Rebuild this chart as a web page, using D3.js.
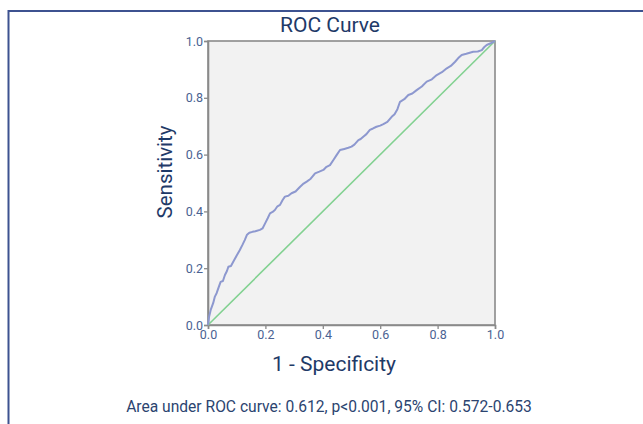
<!DOCTYPE html>
<html>
<head>
<meta charset="utf-8">
<script src="https://cdn.jsdelivr.net/npm/d3@7"></script>
<style>
  html, body { margin: 0; padding: 0; background: #ffffff; }
  svg { display: block; }
  text { font-family: Roboto, "Noto Sans", sans-serif; }
</style>
</head>
<body>
<svg id="chart" width="643" height="424"></svg>
<script>
// ROC curve points: 1 - specificity (fpr) and sensitivity (tpr)
const fpr = [0, 0.004, 0.010, 0.018, 0.024, 0.030, 0.038, 0.044, 0.052, 0.059, 0.066, 0.071, 0.080, 0.088, 0.100, 0.111, 0.120, 0.128, 0.136, 0.144, 0.155, 0.165, 0.181, 0.190, 0.199, 0.208, 0.216, 0.225, 0.233, 0.242, 0.251, 0.260, 0.268, 0.280, 0.291, 0.305, 0.321, 0.333, 0.344, 0.358, 0.373, 0.388, 0.402, 0.413, 0.425, 0.437, 0.448, 0.460, 0.475, 0.489, 0.500, 0.510, 0.524, 0.532, 0.541, 0.552, 0.564, 0.575, 0.587, 0.600, 0.611, 0.625, 0.640, 0.650, 0.660, 0.669, 0.684, 0.698, 0.712, 0.727, 0.745, 0.762, 0.780, 0.797, 0.815, 0.832, 0.846, 0.861, 0.872, 0.884, 0.900, 0.924, 0.940, 0.954, 0.962, 0.971, 0.985, 1.0];
const tpr = [0, 0.030, 0.055, 0.077, 0.100, 0.112, 0.135, 0.152, 0.155, 0.176, 0.190, 0.205, 0.208, 0.223, 0.245, 0.264, 0.282, 0.299, 0.318, 0.325, 0.328, 0.330, 0.335, 0.340, 0.358, 0.376, 0.393, 0.398, 0.405, 0.418, 0.423, 0.440, 0.452, 0.455, 0.464, 0.470, 0.487, 0.498, 0.505, 0.515, 0.534, 0.540, 0.546, 0.557, 0.563, 0.581, 0.598, 0.616, 0.620, 0.624, 0.628, 0.635, 0.651, 0.655, 0.663, 0.672, 0.687, 0.692, 0.698, 0.702, 0.707, 0.715, 0.733, 0.742, 0.760, 0.786, 0.795, 0.810, 0.815, 0.827, 0.840, 0.857, 0.865, 0.880, 0.890, 0.904, 0.912, 0.927, 0.940, 0.951, 0.955, 0.962, 0.963, 0.968, 0.978, 0.986, 0.992, 1.0];
const refLine = [0, 1];
const tickValues = [0, 0.2, 0.4, 0.6, 0.8, 1.0];
const titleText = "ROC Curve";
const xLabel = "1 - Specificity";
const yLabel = "Sensitivity";
const footnote = "Area under ROC curve: 0.612, p<0.001, 95% CI: 0.572-0.653";

const svg = d3.select("#chart");
const W = 643, H = 424;
const plot = { left: 208, right: 495, top: 41, bottom: 325 };

// outer frame (top and left edges)
svg.append("line").attr("x1", 8.5).attr("x2", W).attr("y1", 11).attr("y2", 11)
  .attr("stroke", "#3d5290").attr("stroke-width", 2);
svg.append("line").attr("x1", 8.5).attr("x2", 8.5).attr("y1", 10).attr("y2", H)
  .attr("stroke", "#3d5290").attr("stroke-width", 2);

const x = d3.scaleLinear().domain([0, 1]).range([plot.left, plot.right]);
const y = d3.scaleLinear().domain([0, 1]).range([plot.bottom, plot.top]);

// plot background
svg.append("rect")
  .attr("x", plot.left).attr("y", plot.top)
  .attr("width", plot.right - plot.left).attr("height", plot.bottom - plot.top)
  .attr("fill", "#f2f2f2").attr("stroke", "#8a8a8a").attr("stroke-width", 1.6);

// axes
const axisColor = "#8a8a8a";
const tickColor = "#4a6292";
const xAxis = svg.append("g").attr("transform", `translate(0,${plot.bottom})`)
  .call(d3.axisBottom(x).tickValues(tickValues).tickFormat(d3.format(".1f")).tickSize(4).tickPadding(1));
const yAxis = svg.append("g").attr("transform", `translate(${plot.left},0)`)
  .call(d3.axisLeft(y).tickValues(tickValues).tickFormat(d3.format(".1f")).tickSize(4).tickPadding(1));
[xAxis, yAxis].forEach(g => {
  g.select(".domain").attr("stroke", axisColor).attr("stroke-width", 1.6);
  g.selectAll(".tick line").attr("stroke", axisColor).attr("stroke-width", 1.3);
  g.selectAll(".tick text").attr("fill", tickColor)
    .style("font-size", "12.5px").style("font-family", "Roboto, sans-serif");
});

// reference diagonal
svg.append("line")
  .attr("x1", x(refLine[0])).attr("y1", y(refLine[0]))
  .attr("x2", x(refLine[1])).attr("y2", y(refLine[1]))
  .attr("stroke", "#82d191").attr("stroke-width", 1.6);

// ROC curve
const pts = fpr.map((f, i) => [f, tpr[i]]);
svg.append("path")
  .datum(pts)
  .attr("fill", "none")
  .attr("stroke", "#8d98cf")
  .attr("stroke-width", 2)
  .attr("stroke-linejoin", "round")
  .attr("d", d3.line().x(d => x(d[0])).y(d => y(d[1])));

// title
svg.append("text").attr("x", 330).attr("y", 32).attr("text-anchor", "middle")
  .attr("fill", "#1f3a68").style("font-size", "21px").text(titleText);

// x label
svg.append("text").attr("x", 334).attr("y", 371).attr("text-anchor", "middle")
  .attr("fill", "#1f3a68").style("font-size", "21px").text(xLabel);

// y label
svg.append("text").attr("transform", "translate(172,172) rotate(-90)")
  .attr("text-anchor", "middle")
  .attr("fill", "#1f3a68").style("font-size", "20.5px").text(yLabel);

// footnote
svg.append("text").attr("x", 329).attr("y", 412).attr("text-anchor", "middle")
  .attr("fill", "#2b4470").style("font-size", "15.6px").text(footnote);
</script>
</body>
</html>
